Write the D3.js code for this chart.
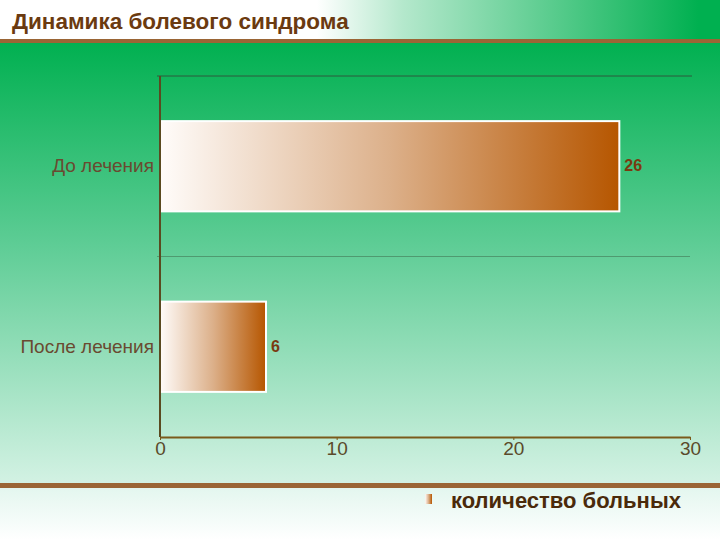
<!DOCTYPE html>
<html>
<head>
  <meta charset="utf-8">
  <script src="https://cdn.jsdelivr.net/npm/d3@7/dist/d3.min.js"></script>
  <style>
    body { margin: 0; }
    svg { display: block; font-family: "Liberation Sans", Arial, sans-serif; }
  </style>
</head>
<body>
<script>
  // data
  const categories = ["До лечения", "После лечения"];
  const values = [26, 6];
  const xTicks = [0, 10, 20, 30];
  const title = "Динамика болевого синдрома";
  const legendLabel = "количество больных";

  const width = 720, height = 540;
  const plot = { left: 160, right: 690, top: 76, bottom: 437 };

  const svg = d3.select("body").append("svg")
    .attr("width", width)
    .attr("height", height);

  const defs = svg.append("defs");

  // header gradient (white to green, left to right)
  const hg = defs.append("linearGradient").attr("id", "hdr");
  hg.append("stop").attr("offset", "0.44").attr("stop-color", "#ffffff");
  hg.append("stop").attr("offset", "0.56").attr("stop-color", "#b4e8cc");
  hg.append("stop").attr("offset", "0.97").attr("stop-color", "#00b050");

  // body gradient (green top to pale mint bottom)
  const bg = defs.append("linearGradient").attr("id", "bg")
    .attr("x1", 0).attr("y1", 0).attr("x2", 0).attr("y2", 1);
  bg.append("stop").attr("offset", "0").attr("stop-color", "#00b050");
  bg.append("stop").attr("offset", "0.45").attr("stop-color", "#5ccc94");
  bg.append("stop").attr("offset", "1").attr("stop-color", "#d4f2e4");

  // footer gradient
  const fg = defs.append("linearGradient").attr("id", "ftr")
    .attr("x1", 0).attr("y1", 0).attr("x2", 0).attr("y2", 1);
  fg.append("stop").attr("offset", "0").attr("stop-color", "#e2f6ee");
  fg.append("stop").attr("offset", "1").attr("stop-color", "#ffffff");

  // bar gradient
  const barG = defs.append("linearGradient").attr("id", "bar");
  barG.append("stop").attr("offset", "0").attr("stop-color", "#fffcfa");
  barG.append("stop").attr("offset", "0.5").attr("stop-color", "#dcb08a");
  barG.append("stop").attr("offset", "1").attr("stop-color", "#b65600");

  // backgrounds
  svg.append("rect").attr("width", width).attr("height", 41).attr("fill", "url(#hdr)");
  svg.append("rect").attr("y", 41).attr("width", width).attr("height", 444).attr("fill", "url(#bg)");
  svg.append("rect").attr("y", 485).attr("width", width).attr("height", 55).attr("fill", "url(#ftr)");

  // brown rules
  svg.append("rect").attr("y", 39).attr("width", width).attr("height", 4).attr("fill", "#9a6535");
  svg.append("rect").attr("y", 483).attr("width", width).attr("height", 5).attr("fill", "#9a6535");

  svg.append("text")
    .attr("x", 12).attr("y", 29)
    .attr("font-size", 22.5).attr("font-weight", "bold")
    .attr("fill", "#6b3a10")
    .text(title);

  // scales
  const x = d3.scaleLinear().domain([0, 30]).range([plot.left, plot.right]);
  const y = d3.scaleBand().domain(categories)
    .range([plot.top, plot.bottom])
    .paddingInner(0.5).paddingOuter(0.25);

  // top frame line and mid grid line
  svg.append("line")
    .attr("x1", plot.left - 3).attr("x2", plot.right + 2)
    .attr("y1", plot.top).attr("y2", plot.top)
    .attr("stroke", "#2c5a3c").attr("stroke-width", 1);
  svg.append("line")
    .attr("x1", plot.left - 3).attr("x2", plot.right)
    .attr("y1", (plot.top + plot.bottom) / 2).attr("y2", (plot.top + plot.bottom) / 2)
    .attr("stroke", "#4f9a70").attr("stroke-width", 1);

  // bars
  svg.selectAll("rect.bar")
    .data(values)
    .enter()
    .append("rect")
    .attr("class", "bar")
    .attr("x", x(0))
    .attr("y", (d, i) => y(categories[i]))
    .attr("width", d => x(d) - x(0))
    .attr("height", y.bandwidth())
    .attr("fill", "url(#bar)")
    .attr("stroke", "#ffffff")
    .attr("stroke-width", 2);

  // value labels
  svg.selectAll("text.val")
    .data(values)
    .enter()
    .append("text")
    .attr("class", "val")
    .attr("x", d => x(d) + 5)
    .attr("y", (d, i) => y(categories[i]) + y.bandwidth() / 2 + 5)
    .attr("font-size", 16).attr("font-weight", "bold")
    .attr("fill", "#7a3a10")
    .text(d => d);

  // category labels
  svg.selectAll("text.cat")
    .data(categories)
    .enter()
    .append("text")
    .attr("class", "cat")
    .attr("x", plot.left - 6)
    .attr("y", d => y(d) + y.bandwidth() / 2 + 6)
    .attr("text-anchor", "end")
    .attr("font-size", 19)
    .attr("fill", "#6a4a30")
    .text(d => d);

  // left axis line
  svg.append("line")
    .attr("x1", plot.left).attr("x2", plot.left)
    .attr("y1", plot.top).attr("y2", plot.bottom)
    .attr("stroke", "#5a4a20").attr("stroke-width", 2);

  // bottom axis
  const xAxis = svg.append("g")
    .attr("transform", `translate(0,${plot.bottom})`)
    .call(d3.axisBottom(x).tickValues(xTicks).tickSize(3).tickSizeOuter(0));
  xAxis.select(".domain").attr("stroke", "#7a5a1a").attr("stroke-width", 2);
  xAxis.selectAll(".tick line").attr("stroke", "#7a5a1a");
  xAxis.selectAll(".tick text")
    .attr("font-size", 19)
    .attr("font-family", "Liberation Sans, Arial, sans-serif")
    .attr("fill", "#5a4a2a")
    .attr("dy", "0.85em")
    .attr("y", 2);

  // legend
  svg.append("rect")
    .attr("x", 425).attr("y", 494).attr("width", 7).attr("height", 10)
    .attr("fill", "url(#bar)");
  svg.append("text")
    .attr("x", 451).attr("y", 508)
    .attr("font-size", 22).attr("font-weight", "bold")
    .attr("fill", "#4a2a0a")
    .text(legendLabel);
</script>
</body>
</html>
